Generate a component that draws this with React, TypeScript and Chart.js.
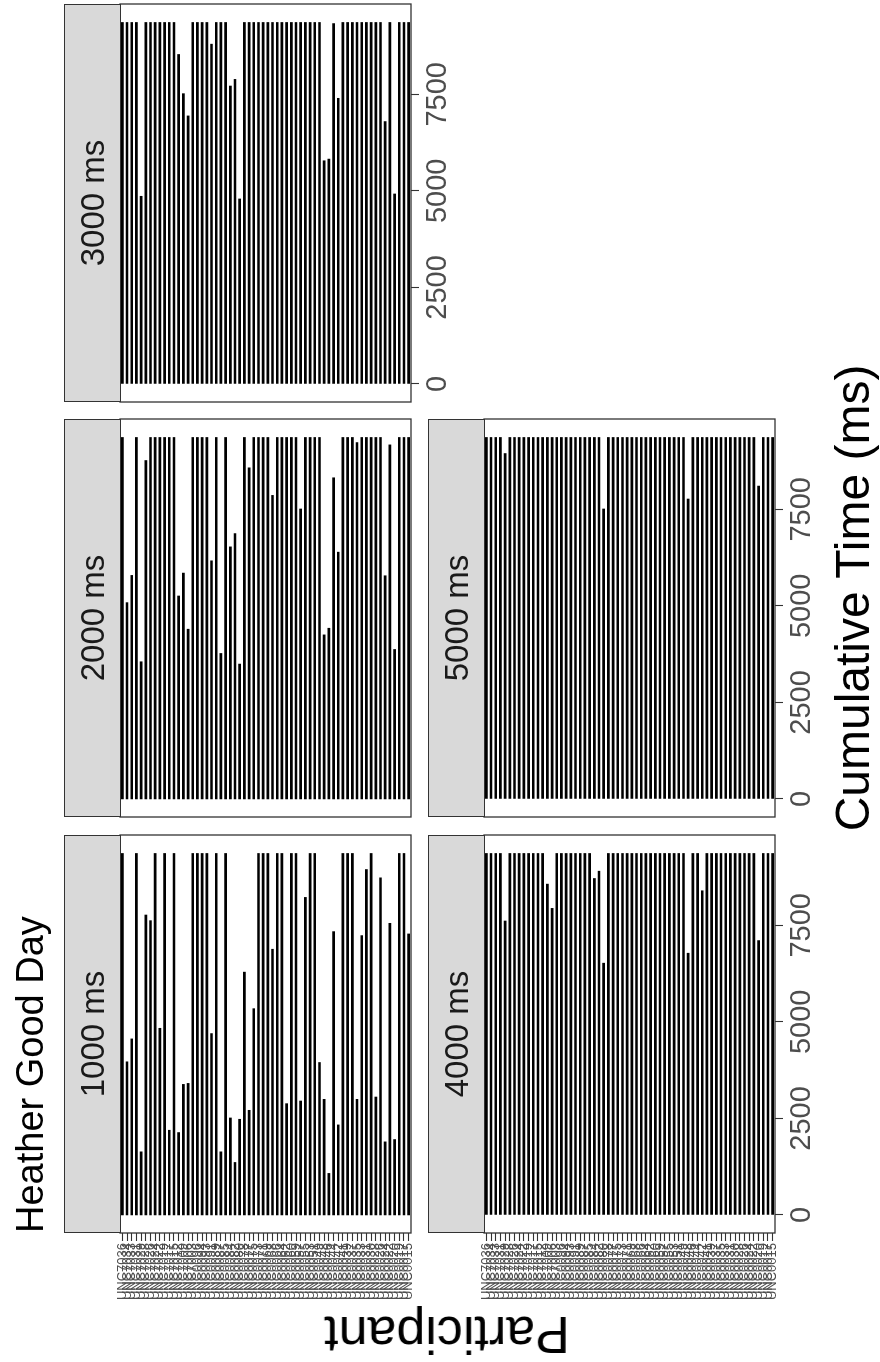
import React, { useEffect, useRef } from "react";
import { Chart, registerables } from "chart.js";

Chart.register(...registerables);

// ---------------- data ----------------
const participants = [
  "UNC7036", "UNC7034", "UNC7033", "UNC7031", "UNC7029", "UNC7028", "UNC7026", "UNC7024",
  "UNC7022", "UNC7019", "UNC7017", "UNC7015", "UNC7012", "UNC7009", "UNC7006", "UNC7003",
  "UNC0096", "UNC0094", "UNC0093", "UNC0091", "UNC0089", "UNC0087", "UNC0085", "UNC0084",
  "UNC0082", "UNC0080", "UNC0078", "UNC0077", "UNC0075", "UNC0073", "UNC0071", "UNC0069",
  "UNC0068", "UNC0066", "UNC0064", "UNC0062", "UNC0060", "UNC0059", "UNC0057", "UNC0055",
  "UNC0053", "UNC0051", "UNC0049", "UNC0048", "UNC0046", "UNC0044", "UNC0042", "UNC0041",
  "UNC0039", "UNC0037", "UNC0035", "UNC0033", "UNC0031", "UNC0030", "UNC0028", "UNC0026",
  "UNC0024", "UNC0022", "UNC0020", "UNC0019", "UNC0017", "UNC0015",
];

const conditions = ["1000 ms", "2000 ms", "3000 ms", "4000 ms", "5000 ms"];

const time1000 = [
  9360, 3965, 4558, 9360, 1634, 7766, 7620, 9360, 4833, 9360,
  2193, 9360, 2133, 3380, 3406, 9360, 9360, 9360, 9360, 4696,
  9360, 1634, 9360, 2511, 1359, 2477, 6287, 2709, 5341, 9360,
  9360, 9360, 6880, 9360, 9360, 2881, 9360, 9360, 2950, 8222,
  9360, 9360, 3947, 2993, 1075, 7336, 2331, 9360, 9360, 9360,
  2993, 7233, 8944, 9360, 3053, 8729, 1892, 7551, 1952, 9360,
  9360, 7276,
];

const time2000 = [
  9360, 5083, 5788, 9360, 3552, 8763, 9360, 9360, 9360, 9360,
  9360, 9360, 5255, 5848, 4395, 9360, 9360, 9360, 9360, 6166,
  9360, 3767, 9360, 6527, 6871, 3492, 9360, 8574, 9360, 9360,
  9360, 9360, 7860, 9360, 9360, 9360, 9360, 9360, 7508, 9360,
  9360, 9360, 9360, 4248, 4420, 8316, 6390, 9360, 9360, 9360,
  9228, 9360, 9360, 9360, 9360, 9360, 5779, 9168, 3870, 9360,
  9360, 9360,
];

const time3000 = [
  9360, 9360, 9360, 9360, 4859, 9360, 9360, 9360, 9360, 9360,
  9360, 9360, 8531, 7516, 6940, 9360, 9360, 9360, 9360, 8798,
  9360, 9360, 9360, 7714, 7886, 4790, 9360, 9360, 9360, 9360,
  9360, 9360, 9360, 9360, 9360, 9360, 9360, 9360, 9360, 9360,
  9360, 9360, 9360, 5779, 5822, 9331, 7396, 9360, 9360, 9360,
  9360, 9360, 9360, 9360, 9360, 9360, 6794, 9360, 4919, 9360,
  9360, 9360,
];

const time4000 = [
  9360, 9360, 9360, 9360, 7611, 9360, 9360, 9360, 9360, 9360,
  9360, 9360, 9360, 8566, 7938, 9360, 9360, 9360, 9360, 9360,
  9360, 9360, 9360, 8712, 8901, 6519, 9360, 9360, 9360, 9360,
  9360, 9360, 9360, 9360, 9360, 9360, 9360, 9360, 9360, 9360,
  9360, 9360, 9360, 6777, 9360, 9360, 8394, 9360, 9360, 9360,
  9360, 9360, 9360, 9360, 9360, 9360, 9360, 9360, 7104, 9360,
  9360, 9360,
];

const time5000 = [
  9360, 9360, 9360, 9360, 8944, 9360, 9360, 9360, 9360, 9360,
  9360, 9360, 9360, 9360, 9360, 9360, 9360, 9360, 9360, 9360,
  9360, 9360, 9360, 9360, 9360, 7508, 9360, 9360, 9360, 9360,
  9360, 9360, 9360, 9360, 9360, 9360, 9360, 9360, 9360, 9360,
  9360, 9360, 9360, 7766, 9360, 9360, 9360, 9360, 9360, 9360,
  9360, 9360, 9360, 9360, 9360, 9360, 9360, 9360, 8101, 9360,
  9360, 9360,
];

const timeTicks = [0, 2500, 5000, 7500];
const timeMin = -468;
const timeMax = 9838;

const chartTitle = "Heather Good Day";
const xTitle = "Cumulative Time (ms)";
const yTitle = "Participant";

// ---------------- layout (un-rotated figure, 1362 x 880) ----------------
const FONT = '"Liberation Sans", Arial, Helvetica, sans-serif';
const FIG_W = 1362;
const FIG_H = 880;
const COL_X = [129, 545, 960];
const PANEL_W = 398;
const STRIP_Y = [64, 428];
const STRIP_H = 56;
const PANEL_H = 291;
const Y_AXIS_W = 80;
const X_AXIS_H = 46;
const PAD = 12;

type Spec = {
  title: string;
  values: number[];
  col: number;
  row: number;
  showY: boolean;
  showX: boolean;
};

const panels: Spec[] = [
  { title: conditions[0], values: time1000, col: 0, row: 0, showY: true, showX: false },
  { title: conditions[1], values: time2000, col: 1, row: 0, showY: false, showX: false },
  { title: conditions[2], values: time3000, col: 2, row: 0, showY: false, showX: true },
  { title: conditions[3], values: time4000, col: 0, row: 1, showY: true, showX: true },
  { title: conditions[4], values: time5000, col: 1, row: 1, showY: false, showX: true },
];

function Panel({ spec }: { spec: Spec }) {
  const ref = useRef<HTMLCanvasElement | null>(null);
  const left = COL_X[spec.col] - PAD - (spec.showY ? Y_AXIS_W : 0);
  const top = STRIP_Y[spec.row] + STRIP_H - PAD;
  const width = PANEL_W + 2 * PAD + (spec.showY ? Y_AXIS_W : 0);
  const height = PANEL_H + 2 * PAD + (spec.showX ? X_AXIS_H : 0);

  useEffect(() => {
    const borderPlugin = {
      id: "panelBorder",
      afterDatasetsDraw(chart: any) {
        const { ctx, chartArea: a } = chart;
        ctx.save();
        ctx.strokeStyle = "#333333";
        ctx.lineWidth = 1.3;
        ctx.strokeRect(a.left, a.top, a.right - a.left, a.bottom - a.top);
        ctx.restore();
      },
    };
    const chart = new Chart(ref.current as HTMLCanvasElement, {
      type: "bar",
      data: {
        labels: participants,
        datasets: [
          {
            data: spec.values,
            backgroundColor: "#000000",
            borderWidth: 0,
            barThickness: 2,
          },
        ],
      },
      options: {
        indexAxis: "y",
        responsive: false,
        animation: false,
        devicePixelRatio: 1,
        layout: { padding: { left: PAD, right: PAD, top: PAD, bottom: PAD } },
        plugins: {
          legend: { display: false },
          tooltip: { enabled: false },
          title: { display: false },
        },
        scales: {
          x: {
            type: "linear",
            min: timeMin,
            max: timeMax,
            display: spec.showX,
            afterBuildTicks: (s: any) => {
              s.ticks = timeTicks.map((v) => ({ value: v }));
            },
            afterFit: (s: any) => {
              s.height = spec.showX ? X_AXIS_H : 0;
              s.paddingLeft = 0;
              s.paddingRight = 0;
              s.paddingTop = 0;
              s.paddingBottom = 0;
            },
            grid: {
              display: true,
              drawOnChartArea: false,
              drawTicks: true,
              tickLength: 8,
              tickColor: "#333333",
              tickWidth: 1.1,
            },
            border: { display: false },
            ticks: {
              color: "#4D4D4D",
              font: { family: FONT, size: 29 },
              padding: 2,
              maxRotation: 0,
              minRotation: 0,
              autoSkip: false,
              callback: (v: any) => String(v),
            },
          },
          y: {
            type: "category",
            offset: true,
            display: spec.showY,
            afterFit: (s: any) => {
              s.width = spec.showY ? Y_AXIS_W : 0;
              s.paddingLeft = 0;
              s.paddingRight = 0;
              s.paddingTop = 0;
              s.paddingBottom = 0;
            },
            grid: {
              display: true,
              offset: false,
              drawOnChartArea: false,
              drawTicks: true,
              tickLength: 8,
              tickColor: "#333333",
              tickWidth: 1.1,
            },
            border: { display: false },
            ticks: {
              color: "#4D4D4D",
              font: { family: FONT, size: 13 },
              padding: 2,
              autoSkip: false,
            },
          },
        },
      } as any,
      plugins: [borderPlugin],
    });
    return () => chart.destroy();
  }, []);

  return (
    <canvas
      ref={ref}
      width={width}
      height={height}
      style={{ position: "absolute", left, top, width, height }}
    />
  );
}

function Strip({ spec }: { spec: Spec }) {
  return (
    <div
      style={{
        position: "absolute",
        left: COL_X[spec.col],
        top: STRIP_Y[spec.row],
        width: PANEL_W,
        height: STRIP_H + 1,
        boxSizing: "border-box",
        background: "#D9D9D9",
        border: "1px solid #333333",
        display: "flex",
        alignItems: "center",
        justifyContent: "center",
        fontFamily: FONT,
        fontSize: 33,
        lineHeight: 1,
        color: "#1A1A1A",
        whiteSpace: "nowrap",
      }}
    >
      {spec.title}
    </div>
  );
}

export default function App() {
  return (
    <div
      style={{
        position: "fixed",
        left: 0,
        top: 0,
        width: FIG_W,
        height: FIG_H,
        background: "#FFFFFF",
        transformOrigin: "0 0",
        transform: `translateY(${FIG_W}px) rotate(-90deg)`,
        overflow: "hidden",
      }}
    >
      <div
        style={{
          position: "absolute",
          left: 129,
          top: 11,
          fontFamily: FONT,
          fontSize: 38,
          lineHeight: 1,
          color: "#000000",
          whiteSpace: "nowrap",
        }}
      >
        {chartTitle}
      </div>
      {panels.map((p) => (
        <Panel key={p.title} spec={p} />
      ))}
      {panels.map((p) => (
        <Strip key={"s" + p.title} spec={p} />
      ))}
      <div
        style={{
          position: "absolute",
          left: 764,
          top: 829,
          transform: "translateX(-50%)",
          fontFamily: FONT,
          fontSize: 48,
          lineHeight: 1,
          color: "#000000",
          whiteSpace: "nowrap",
        }}
      >
        {xTitle}
      </div>
      <div
        style={{
          position: "absolute",
          left: 27,
          top: 447,
          transform: "translate(-50%, -50%) rotate(-90deg)",
          fontFamily: FONT,
          fontSize: 52,
          lineHeight: 1,
          color: "#000000",
          whiteSpace: "nowrap",
        }}
      >
        {yTitle}
      </div>
    </div>
  );
}
